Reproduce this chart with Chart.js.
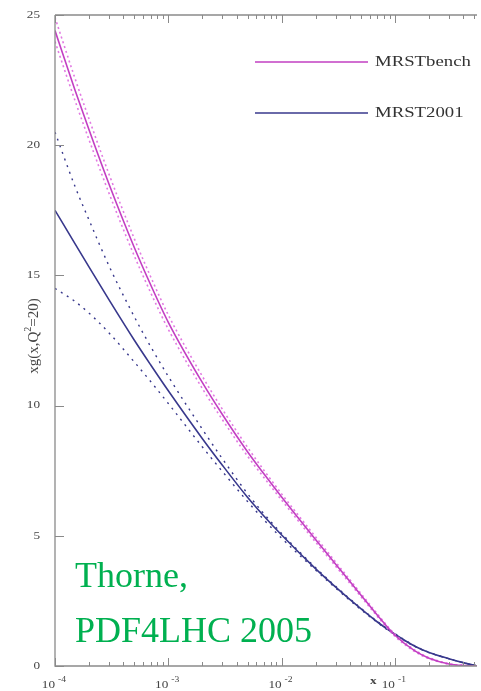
<!DOCTYPE html>
<html><head><meta charset="utf-8">
<script src="https://cdn.jsdelivr.net/npm/chart.js@4/dist/chart.umd.min.js"></script>
<style>html,body{margin:0;padding:0;background:#fff}#wrap{width:481px;height:691px;position:relative}</style>
</head><body><div id="wrap"><canvas id="c" width="481" height="691"></canvas></div>
<script>
// ---- data ----
const xValues = [1e-4,1.5e-4,2e-4,3e-4,5e-4,7e-4,1e-3,2e-3,3e-3,5e-3,7e-3,1e-2,2e-2,3e-2,5e-2,7e-2,0.1,0.15,0.2,0.3,0.4,0.53];
const benchCentral = [24.4,22.12,20.58,18.5,16.08,14.63,13.2,10.88,9.66,8.23,7.37,6.49,4.85,3.91,2.73,1.95,1.18,0.58,0.3,0.08,0.02,0];
const benchUpper   = [24.9,22.57,21.0,18.88,16.42,14.94,13.48,11.12,9.86,8.40,7.51,6.61,4.95,3.99,2.79,2.0,1.22,0.61,0.32,0.09,0.02,0];
const benchLower   = [23.98,21.72,20.2,18.15,15.76,14.33,12.93,10.65,9.46,8.06,7.23,6.37,4.75,3.83,2.67,1.9,1.14,0.55,0.28,0.07,0.02,0];
const mrstCentral  = [17.5,16.22,15.32,14.06,12.52,11.56,10.57,8.73,7.71,6.48,5.75,5.03,3.73,3.03,2.2,1.69,1.22,0.76,0.52,0.28,0.13,0];
const mrstUpper    = [20.5,18.42,17.12,15.36,13.42,12.26,11.12,9.09,7.96,6.62,5.84,5.09,3.77,3.06,2.22,1.71,1.24,0.77,0.53,0.28,0.13,0];
const mrstLower    = [14.5,14.0,13.55,12.79,11.68,10.92,10.08,8.41,7.47,6.32,5.61,4.91,3.68,2.99,2.17,1.67,1.2,0.75,0.51,0.28,0.13,0];
const yTickValues = [0,5,10,15,20,25];
const xDecadeTicks = [1e-4,1e-3,1e-2,1e-1];
const xDecadeExponents = ['-4','-3','-2','-1'];
const legendLabels = ['MRSTbench','MRST2001'];
const yTitleParts = ['xg(x,Q','2','=20)'];
const xTitle = 'x';
const noteLines = ['Thorne,','PDF4LHC 2005'];
const X_MIN = 1e-4, X_MAX = 0.53, Y_MIN = 0, Y_MAX = 25;

const MAG = '#c23fc2', MAG_LIGHT = '#e27ae2', NAVY = '#38388c', AXIS = '#8a8a8a', TXT = '#444';
const pts = arr => arr.map((v,i)=>({x:xValues[i], y:v}));

const decor = {
  id:'decor',
  afterDraw(chart){
    const ctx = chart.ctx, xs = chart.scales.x, ys = chart.scales.y, a = chart.chartArea;
    ctx.save();
    ctx.strokeStyle = AXIS; ctx.lineWidth = 1.3;
    ctx.beginPath();
    ctx.moveTo(a.left, a.top); ctx.lineTo(a.left, a.bottom); ctx.lineTo(a.right, a.bottom);
    ctx.moveTo(a.left, a.top); ctx.lineTo(a.right, a.top);
    ctx.stroke();
    ctx.lineWidth = 1;
    ctx.beginPath();
    for (let d=-4; d<=-1; d++){
      for (let m=1; m<=9; m++){
        const v = m*Math.pow(10,d);
        if (v > X_MAX*1.0001) continue;
        const px = Math.round(xs.getPixelForValue(v))+0.5;
        const len = m===1 ? 8 : 4;
        ctx.moveTo(px, a.bottom); ctx.lineTo(px, a.bottom-len);
        ctx.moveTo(px, a.top); ctx.lineTo(px, a.top+len);
      }
    }
    yTickValues.forEach(v=>{
      const py = Math.round(ys.getPixelForValue(v))+0.5;
      ctx.moveTo(a.left, py); ctx.lineTo(a.left+9, py);
    });
    ctx.stroke();
    ctx.fillStyle = TXT; ctx.textBaseline = 'middle'; ctx.textAlign = 'right';
    ctx.font = '11px "Liberation Serif", serif';
    yTickValues.forEach(v=>{
      const py = ys.getPixelForValue(v);
      ctx.save(); ctx.translate(40, py); ctx.scale(1.2,1);
      ctx.fillText(String(v), 0, 0); ctx.restore();
    });
    xDecadeTicks.forEach((v,i)=>{
      const px = xs.getPixelForValue(v);
      ctx.save(); ctx.translate(px, 0); ctx.scale(1.2,1);
      ctx.textAlign='right'; ctx.textBaseline='alphabetic';
      ctx.font = '11px "Liberation Serif", serif';
      ctx.fillText('10', 0, 688);
      ctx.textAlign='left'; ctx.font = '8px "Liberation Serif", serif';
      ctx.fillText(xDecadeExponents[i], 2.5, 682);
      ctx.restore();
    });
    ctx.save(); ctx.translate(370, 684); ctx.scale(1.2,1);
    ctx.textAlign='left'; ctx.textBaseline='alphabetic';
    ctx.font = 'bold 11px "Liberation Serif", serif';
    ctx.fillText(xTitle, 0, 0); ctx.restore();
    ctx.save(); ctx.translate(38, 336); ctx.rotate(-Math.PI/2);
    ctx.textBaseline='alphabetic'; ctx.textAlign='left';
    const f1 = '15px "Liberation Serif", serif', f2 = '10px "Liberation Serif", serif';
    ctx.font = f1; const w1 = ctx.measureText(yTitleParts[0]).width;
    ctx.font = f2; const w2 = ctx.measureText(yTitleParts[1]).width;
    ctx.font = f1; const w3 = ctx.measureText(yTitleParts[2]).width;
    let sx = -(w1+w2+w3)/2;
    ctx.font = f1; ctx.fillText(yTitleParts[0], sx, 0); sx += w1;
    ctx.font = f2; ctx.fillText(yTitleParts[1], sx, -7); sx += w2;
    ctx.font = f1; ctx.fillText(yTitleParts[2], sx, 0);
    ctx.restore();
    const ds = chart.data.datasets;
    const legendItems = [ds[0], ds[3]];
    const legendY = [62, 113];
    legendItems.forEach((d,i)=>{
      ctx.strokeStyle = d.borderColor; ctx.lineWidth = 1.5; ctx.setLineDash([]);
      ctx.beginPath(); ctx.moveTo(255, legendY[i]); ctx.lineTo(368, legendY[i]); ctx.stroke();
      ctx.save(); ctx.translate(375, legendY[i]); ctx.scale(1.25,1);
      ctx.fillStyle = '#333'; ctx.textAlign='left'; ctx.textBaseline='middle';
      ctx.font = '15px "Liberation Serif", serif';
      ctx.fillText(legendLabels[i], 0, 0); ctx.restore();
    });
    ctx.fillStyle = '#00b050'; ctx.textAlign='left'; ctx.textBaseline='alphabetic';
    ctx.font = '36px "Liberation Serif", serif';
    ctx.fillText(noteLines[0], 75, 587);
    ctx.fillText(noteLines[1], 75, 642);
    ctx.restore();
  }
};

new Chart(document.getElementById('c'), {
  type:'line',
  data:{datasets:[
    {label:legendLabels[0], data:pts(benchCentral), borderColor:MAG, borderWidth:1.6},
    {label:legendLabels[0]+' up', data:pts(benchUpper), borderColor:MAG_LIGHT, borderWidth:1.6, borderDash:[2,3]},
    {label:legendLabels[0]+' low', data:pts(benchLower), borderColor:MAG_LIGHT, borderWidth:1.6, borderDash:[2,3]},
    {label:legendLabels[1], data:pts(mrstCentral), borderColor:NAVY, borderWidth:1.6},
    {label:legendLabels[1]+' up', data:pts(mrstUpper), borderColor:NAVY, borderWidth:1.4, borderDash:[2,5]},
    {label:legendLabels[1]+' low', data:pts(mrstLower), borderColor:NAVY, borderWidth:1.4, borderDash:[2,5]}
  ]},
  options:{
    responsive:false, animation:false,
    layout:{padding:{left:55, top:15, right:4, bottom:25}},
    elements:{point:{radius:0}, line:{cubicInterpolationMode:'monotone', fill:false}},
    plugins:{legend:{display:false}, tooltip:{enabled:false}},
    scales:{
      x:{type:'logarithmic', min:X_MIN, max:X_MAX, display:false},
      y:{type:'linear', min:Y_MIN, max:Y_MAX, display:false}
    }
  },
  plugins:[decor]
});
</script></body></html>
